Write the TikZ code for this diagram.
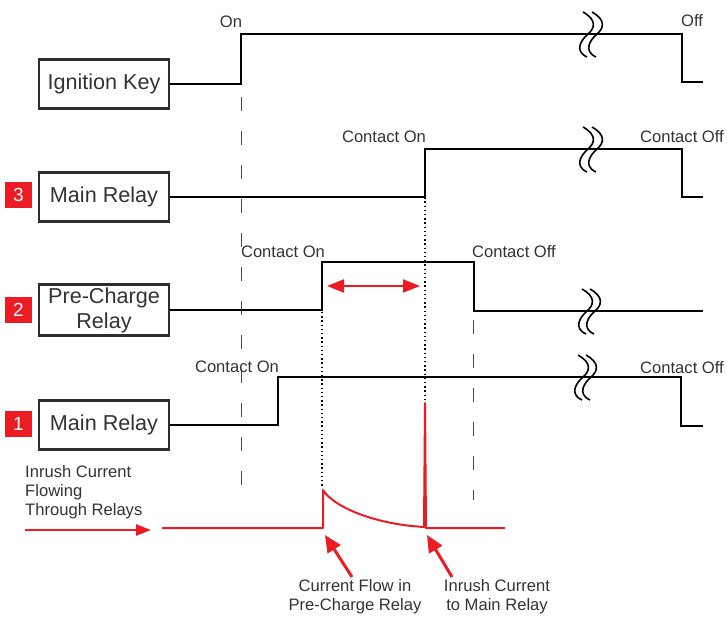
\documentclass[tikz,border=0pt]{standalone}
\usepackage{fontspec}
\setmainfont{Liberation Sans}
\usetikzlibrary{arrows.meta}
\definecolor{rred}{HTML}{ED1C24}
\definecolor{boxgray}{HTML}{2E2E2E}
\definecolor{txt}{HTML}{333333}
\begin{document}
\begin{tikzpicture}[x=1pt,y=-1pt,
  sig/.style={line width=2.4pt, black},
  lbl/.style={font=\fontsize{16.6}{18.8}\selectfont, text=txt, inner sep=0pt},
  relaybox/.style={draw=boxgray, line width=2.6pt, minimum width=130pt, minimum height=49pt,
     font=\fontsize{21.6}{25}\selectfont, text=txt, align=center, inner sep=0pt, fill=white},
  numbox/.style={fill=rred, minimum width=27pt, minimum height=26pt, text=white,
     font=\fontsize{19}{19}\selectfont, inner sep=0pt},
  brk/.style={line width=1.6pt, black},
  dashline/.style={line width=1pt, black!70, dash pattern=on 14pt off 20pt},
  dotline/.style={line width=1.4pt, black, dash pattern=on 1.4pt off 2.8pt},
  redline/.style={rred, line width=2pt},
  redarrow/.style={rred, line width=3pt, -{Triangle[length=17pt,width=15pt]}},
  brkpic/.pic={\draw[brk] (0,-22) .. controls (14,-14) and (12,-6) .. (5,0) .. controls (-2,6) and (-9,17) .. (4,23);}
]
\useasboundingbox (0,0) rectangle (727,616);

% boxes
\node[relaybox] (ign) at (104,84) {Ignition Key};
\node[relaybox] (mr3) at (104,197) {Main Relay};
\node[relaybox, minimum height=51pt] (pcr) at (104,310) {Pre-Charge\\Relay};
\node[relaybox] (mr1) at (104,425) {Main Relay};
\node[numbox] (n3) at (18.5,195) {3};
\node[numbox] (n2) at (18.5,310) {2};
\node[numbox] (n1) at (18.5,423.5) {1};

% guide lines
\coordinate (d1a) at (241,97);  \coordinate (d1b) at (241,500);
\coordinate (d2a) at (473,320); \coordinate (d2b) at (473,500);
\coordinate (p1a) at (322,312); \coordinate (p1b) at (322,488);
\coordinate (p2a) at (425,151); \coordinate (p2b) at (425,522);
\draw[dashline] (d1a) -- (d1b);
\draw[dashline] (d2a) -- (d2b);
\draw[dotline] (p1a) -- (p1b);
\draw[dotline] (p2a) -- (p2b);

% signals
\draw[sig] (ign.east) -- (241,84) -- (241,34) -- (682,34) -- (682,82) -- (703,82);
\draw[sig] (mr3.east) -- (425,197) -- (425,149) -- (682,149) -- (682,197) -- (703,197);
\draw[sig] (pcr.east) -- (322,310) -- (322,262) -- (474,262) -- (474,311) -- (703,311);
\draw[sig] (mr1.east) -- (278,425) -- (278,377) -- (681,377) -- (681,426) -- (703,426);

% break marks
\pic at (583,34) {brkpic}; \pic at (592,34) {brkpic};
\pic at (583,149) {brkpic}; \pic at (592,149) {brkpic};
\pic at (582,311) {brkpic}; \pic at (590,311) {brkpic};
\pic at (578,377) {brkpic}; \pic at (586,377) {brkpic};

% labels
\node[lbl] (lon) at (231,22) {On};
\node[lbl] (loff) at (692,21) {Off};
\node[lbl] (c3on) at (384,137) {Contact On};
\node[lbl] (c3off) at (682,137) {Contact Off};
\node[lbl] (c2on) at (283,252) {Contact On};
\node[lbl] (c2off) at (514,252) {Contact Off};
\node[lbl] (c1on) at (237,367) {Contact On};
\node[lbl] (c1off) at (682,368) {Contact Off};

% double arrow
\coordinate (da) at (327,286); \coordinate (db) at (420,286);
\draw[rred, line width=2pt, {Triangle[length=17pt,width=13pt]}-{Triangle[length=17pt,width=13pt]}] (da) -- (db);

% current trace
\draw[redline, line join=round] (162,528) -- (323,528) -- (323,490)
   .. controls (333,506) and (372,524) .. (424,527) -- (425,403) -- (426,528) -- (505,528);

% left text and arrow
\node[lbl, align=left, anchor=west] (inr) at (25,492) {Inrush Current\\Flowing\\Through Relays};
\coordinate (la) at (25,530); \coordinate (lb) at (151,530);
\draw[rred, line width=2.5pt, -{Triangle[length=15pt,width=11pt]}] (la) -- (lb);

% bottom labels and arrows
\node[lbl, align=center] (cf) at (355,597) {Current Flow in\\Pre-Charge Relay};
\node[lbl, align=center] (ir) at (497,597) {Inrush Current\\to Main Relay};
\coordinate (a1) at (352,577); \coordinate (a1t) at (325,535);
\coordinate (a2) at (452,577); \coordinate (a2t) at (427,535);
\draw[redarrow] (a1) -- (a1t);
\draw[redarrow] (a2) -- (a2t);
\end{tikzpicture}
\end{document}
